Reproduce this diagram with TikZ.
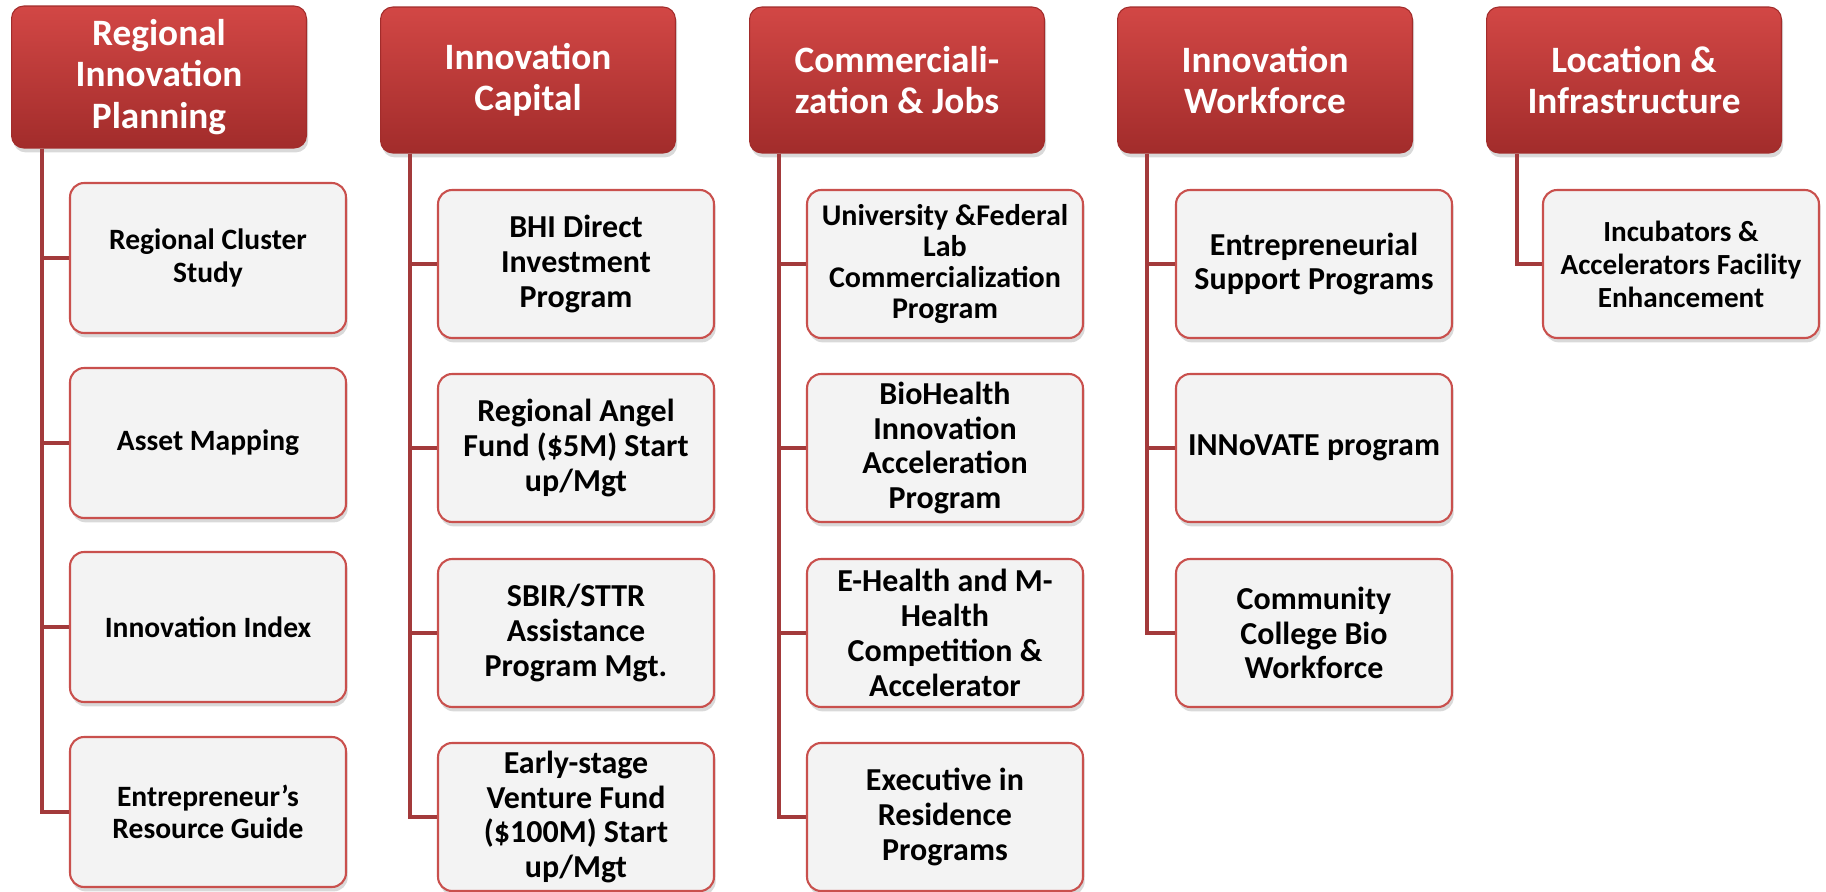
\documentclass[tikz,border=0pt]{standalone}
\usepackage{fontspec}
\setmainfont{Carlito}
\usetikzlibrary{shadows}

\definecolor{headtop}{HTML}{D24745}
\definecolor{headbot}{HTML}{A22C2B}
\definecolor{boxline}{HTML}{C9504D}
\definecolor{boxfill}{HTML}{F3F3F3}
\definecolor{trunkred}{HTML}{A33A3B}

\tikzset{
  head/.style={rectangle, rounded corners=7pt, minimum width=5.9cm, minimum height=2.92cm,
    inner sep=0pt, top color=headtop, bottom color=headbot, draw=headbot, line width=0.6pt,
    text=white, align=center, font=\bfseries\fontsize{21.2}{23.6}\selectfont,
    drop shadow={shadow xshift=1pt, shadow yshift=-2.5pt, opacity=0.3}},
  item/.style={rectangle, rounded corners=8pt, minimum width=5.52cm, minimum height=2.96cm,
    inner sep=0pt, fill=boxfill, draw=boxline, line width=1.2pt,
    align=center, font=\bfseries\fontsize{18.2}{19.8}\selectfont,
    drop shadow={shadow xshift=1pt, shadow yshift=-2.5pt, opacity=0.3}},
  small/.style={font=\bfseries\fontsize{16.8}{18.5}\selectfont},
  trunk/.style={draw=trunkred, line width=2.8pt}
}

\begin{document}
\begin{tikzpicture}[x=0.02cm, y=-0.02cm]
	\useasboundingbox (0,0) rectangle (1826,892);
	% headers
	\node[head, minimum height=2.84cm] (h1) at (159,77) {Regional\\Innovation\\Planning};
	\node[head] (h2) at (528,80) {Innovation\\Capital};
	\node[head] (h3) at (897,80) {Commerciali-\\zation \& Jobs};
	\node[head] (h4) at (1265,80) {Innovation\\Workforce};
	\node[head] (h5) at (1634,80) {Location \&\\Infrastructure};
	% trunk positions
	\coordinate (t1) at (42,0);
	\coordinate (t2) at (410,0);
	\coordinate (t3) at (779,0);
	\coordinate (t4) at (1147,0);
	\coordinate (t5) at (1517,0);
	% planning
	\node[item, small, minimum height=3cm] (c11) at (208,258) {Regional Cluster\\Study};
	\node[item, small, minimum height=3cm] (c12) at (208,443) {Asset Mapping};
	\node[item, small, minimum height=3cm] (c13) at (208,627) {Innovation Index};
	\node[item, small, minimum height=3cm] (c14) at (208,812) {Entrepreneur’s\\Resource Guide};
	% capital
	\node[item] (c21) at (576,264) {BHI Direct\\Investment\\Program};
	\node[item] (c22) at (576,448) {Regional Angel\\Fund (\$5M) Start\\up/Mgt};
	\node[item] (c23) at (576,633) {SBIR/STTR\\Assistance\\Program Mgt.};
	\node[item] (c24) at (576,817) {Early-stage\\Venture Fund\\(\$100M) Start\\up/Mgt};
	% commercialization
	\node[item, font=\bfseries\fontsize{17.1}{17.8}\selectfont] (c31) at (945,264) {University \&Federal\\Lab\\Commercialization\\Program};
	\node[item] (c32) at (945,448) {BioHealth\\Innovation\\Acceleration\\Program};
	\node[item] (c33) at (945,633) {E-Health and M-\\Health\\Competition \&\\Accelerator};
	\node[item] (c34) at (945,817) {Executive in\\Residence\\Programs};
	% workforce
	\node[item] (c41) at (1314,264) {Entrepreneurial\\Support Programs};
	\node[item] (c42) at (1314,448) {INNoVATE program};
	\node[item] (c43) at (1314,633) {Community\\College Bio\\Workforce};
	% infrastructure
	\node[item, font=\bfseries\fontsize{16.6}{18.8}\selectfont] (c51) at (1681,264) {Incubators \&\\Accelerators Facility\\Enhancement};
	% connectors
	\foreach \c/\m in {1/4,2/4,3/4,4/3,5/1}{
		\foreach \n in {1,...,\m}{
			\draw[trunk] (h\c.south -| t\c) |- (c\c\n.west);
		}
	}
\end{tikzpicture}
\end{document}
